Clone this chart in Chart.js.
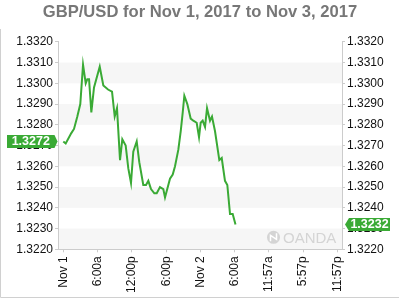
<!DOCTYPE html>
<html>
<head>
<meta charset="utf-8">
<script src="https://cdn.jsdelivr.net/npm/chart.js@4.4.1/dist/chart.umd.min.js"></script>
<style>
  html, body { margin: 0; padding: 0; background: #fff; }
</style>
</head>
<body>
<canvas id="rateChart" width="400" height="300"></canvas>
<script>
const chartTitle = "GBP/USD for Nov 1, 2017 to Nov 3, 2017";

// hours since Nov 1 00:00
const hours = [
  0, 0.42, 1.4, 1.87, 2.45, 2.97, 3.45, 3.92, 4.2, 4.5,
  4.9, 5.37, 6.37, 7.0, 7.82, 8.52, 8.99, 9.39, 9.92, 10.32,
  10.91, 11.37, 11.84, 12.24, 12.84, 13.29, 13.99, 14.47, 14.87, 15.34,
  15.92, 16.34, 16.91, 17.49, 17.79, 18.66, 19.14, 19.54, 20.12, 20.54,
  20.89, 21.17, 21.69, 22.28, 22.74, 23.33, 23.74, 24.03, 24.38, 24.79,
  25.14, 25.66, 26.01, 26.53, 27.29, 27.71, 28.28, 28.69, 29.16, 29.63,
  30.12,
];
const rates = [
  1.3272, 1.3271, 1.3276, 1.3278, 1.3284, 1.329, 1.3309, 1.33, 1.3302, 1.3302,
  1.3286, 1.3298, 1.3308, 1.3299, 1.3297, 1.3296, 1.3284, 1.3288, 1.3263, 1.3273,
  1.327, 1.3259, 1.3252, 1.3267, 1.3272, 1.3262, 1.3251, 1.3251, 1.3253, 1.3249,
  1.3247, 1.3247, 1.325, 1.3249, 1.3245, 1.3254, 1.3256, 1.326, 1.3268, 1.3277,
  1.3286, 1.3294, 1.329, 1.3283, 1.3282, 1.3281, 1.3274, 1.3281, 1.3282, 1.3279,
  1.3288, 1.3282, 1.3284, 1.3277, 1.3263, 1.3264, 1.3253, 1.3251, 1.3237, 1.3237,
  1.3232,
];

const tickHours = [0, 6, 12, 18, 24, 30, 35.95, 41.95, 47.95];
const tickLabels = ["Nov 1", "6:00a", "12:00p", "6:00p", "Nov 2", "6:00a", "11:57a", "5:57p", "11:57p"];
const rateTicks = [1.322, 1.323, 1.324, 1.325, 1.326, 1.327, 1.328, 1.329, 1.33, 1.331, 1.332];

const green = "#3aaa35";
const axisGray = "#cccccc";

Chart.defaults.font.family = "'Liberation Sans', Arial, sans-serif";

const bandsPlugin = {
  id: "bands",
  beforeDraw(chart) {
    const { ctx, chartArea } = chart;
    const y = chart.scales.y;
    ctx.save();
    ctx.fillStyle = "#f6f6f6";
    for (let i = 0; i < rateTicks.length - 1; i += 2) {
      const top = y.getPixelForValue(rateTicks[i + 1]);
      const bottom = y.getPixelForValue(rateTicks[i]);
      ctx.fillRect(chartArea.left, top, chartArea.right - chartArea.left, bottom - top);
    }
    // outer frame
    ctx.strokeStyle = "#d0d0d0";
    ctx.lineWidth = 1;
    ctx.beginPath();
    ctx.moveTo(0.5, 29);
    ctx.lineTo(0.5, 297.5);
    ctx.lineTo(399, 297.5);
    ctx.stroke();
    ctx.restore();
  },
  beforeDatasetsDraw(chart) {
    // watermark
    const { ctx, chartArea } = chart;
    const cx = chartArea.right - 68.5;
    const cy = chartArea.bottom - 12;
    ctx.save();
    ctx.fillStyle = "#d4d4d4";
    ctx.beginPath();
    ctx.arc(cx, cy, 6.5, 0, Math.PI * 2);
    ctx.fill();
    ctx.strokeStyle = "#fff";
    ctx.lineWidth = 1.5;
    ctx.beginPath();
    ctx.moveTo(cx - 3, cy + 4);
    ctx.lineTo(cx - 3, cy - 2);
    ctx.lineTo(cx + 3, cy + 2);
    ctx.lineTo(cx + 3, cy - 4);
    ctx.stroke();
    ctx.font = "15px 'Liberation Sans', Arial, sans-serif";
    ctx.fillText("OANDA", chartArea.right - 59, chartArea.bottom - 6);
    ctx.restore();
  },
  afterDraw(chart) {
    const { ctx, chartArea } = chart;
    const y = chart.scales.y;
    const first = rates[0];
    const last = rates[rates.length - 1];
    const h = 13;
    ctx.save();
    ctx.fillStyle = green;
    const firstY = y.getPixelForValue(first);
    let tip = chartArea.left - 0.5;
    ctx.beginPath();
    ctx.moveTo(7, firstY - h / 2);
    ctx.lineTo(tip - 3, firstY - h / 2);
    ctx.lineTo(tip, firstY);
    ctx.lineTo(tip - 3, firstY + h / 2);
    ctx.lineTo(7, firstY + h / 2);
    ctx.closePath();
    ctx.fill();
    const lastY = y.getPixelForValue(last);
    tip = chartArea.right + 3;
    ctx.beginPath();
    ctx.moveTo(tip, lastY);
    ctx.lineTo(tip + 4, lastY - h / 2);
    ctx.lineTo(chartArea.right + 48, lastY - h / 2);
    ctx.lineTo(chartArea.right + 48, lastY + h / 2);
    ctx.lineTo(tip + 4, lastY + h / 2);
    ctx.closePath();
    ctx.fill();
    ctx.fillStyle = "#fff";
    ctx.font = "bold 12.5px 'Liberation Sans', Arial, sans-serif";
    ctx.textAlign = "center";
    ctx.textBaseline = "middle";
    ctx.fillText(first.toFixed(4), (7 + chartArea.left - 3.5) / 2, firstY + 0.5);
    ctx.fillText(last.toFixed(4), (chartArea.right + 7 + chartArea.right + 48) / 2, lastY + 0.5);
    ctx.restore();
  },
};

const tickStyle = { color: "#111", font: { size: 12 }, padding: 2 };
const gridStyle = { drawOnChartArea: false, tickLength: 3, color: axisGray };

function rateAxis(position) {
  return {
    position: position,
    min: rateTicks[0],
    max: rateTicks[rateTicks.length - 1],
    afterBuildTicks: (scale) => {
      scale.ticks = rateTicks.map((v) => ({ value: v }));
    },
    afterFit: (scale) => {
      scale.width = 58;
    },
    ticks: { ...tickStyle, callback: (v) => Number(v).toFixed(4) },
    grid: gridStyle,
    border: { color: axisGray },
  };
}

new Chart(document.getElementById("rateChart"), {
  type: "line",
  data: {
    datasets: [
      {
        data: hours.map((h, i) => ({ x: h, y: rates[i] })),
        borderColor: green,
        borderWidth: 2,
        pointRadius: 0,
        tension: 0,
      },
    ],
  },
  options: {
    responsive: false,
    animation: false,
    plugins: {
      legend: { display: false },
      tooltip: { enabled: false },
      title: {
        display: true,
        text: chartTitle,
        color: "#777",
        font: { size: 16.6, weight: "bold" },
        padding: { top: 2, bottom: 19.9 },
      },
    },
    scales: {
      x: {
        type: "linear",
        min: -0.93,
        max: 48.75,
        afterBuildTicks: (scale) => {
          scale.ticks = tickHours.map((v) => ({ value: v }));
        },
        afterFit: (scale) => {
          scale.height = 50.7;
        },
        ticks: {
          ...tickStyle,
          padding: 4,
          minRotation: 90,
          maxRotation: 90,
          autoSkip: false,
          callback: (v, i) => tickLabels[i],
        },
        grid: gridStyle,
        border: { color: axisGray },
      },
      y: rateAxis("left"),
      y2: rateAxis("right"),
    },
  },
  plugins: [bandsPlugin],
});
</script>
</body>
</html>
